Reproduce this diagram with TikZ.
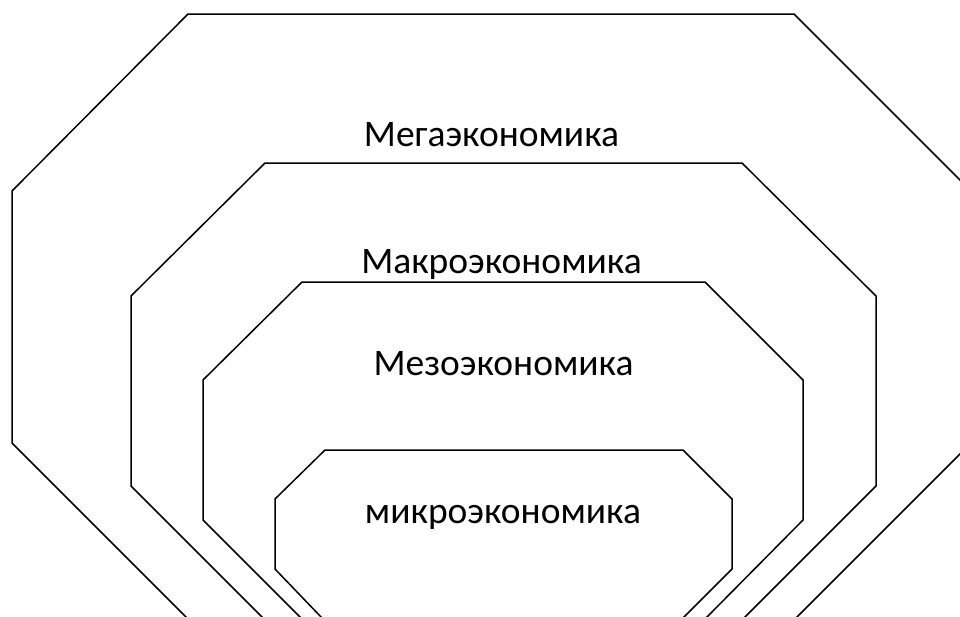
\documentclass[tikz,border=0pt]{standalone}
\usepackage{fontspec}
\setmainfont{Carlito}
\begin{document}
\begin{tikzpicture}[x=1pt,y=-1pt,line width=1.5pt,line join=miter,
    level/.style={font=\fontsize{37.5}{42}\selectfont,anchor=base,inner sep=0pt}]
    \useasboundingbox (0,0) rectangle (960,616);
    \clip (0,0) rectangle (960,616);
    % octagons, outermost first
    \draw (188,14)--(794,14)--(971,191)--(971,443)--(794,620)--(189,620)--(12,443)--(12,191)--cycle;
    \draw (265,163)--(742,163)--(876,296)--(876,486)--(743,619)--(264,619)--(131,486)--(131,296)--cycle;
    \draw (302,282)--(705,282)--(803,380)--(803,520)--(705,619)--(302,619)--(203,520)--(203,380)--cycle;
    \draw (325,450)--(683,450)--(732,499)--(732,569)--(683,618)--(322,618)--(275,569)--(275,499)--cycle;
    % labels
    \node[level] (mega) at (491.5,146) {Мегаэкономика};
    \node[level] (makro) at (501.5,273) {Макроэкономика};
    \node[level] (mezo) at (503.5,375) {Мезоэкономика};
    \node[level] (mikro) at (503,523) {микроэкономика};
\end{tikzpicture}
\end{document}
